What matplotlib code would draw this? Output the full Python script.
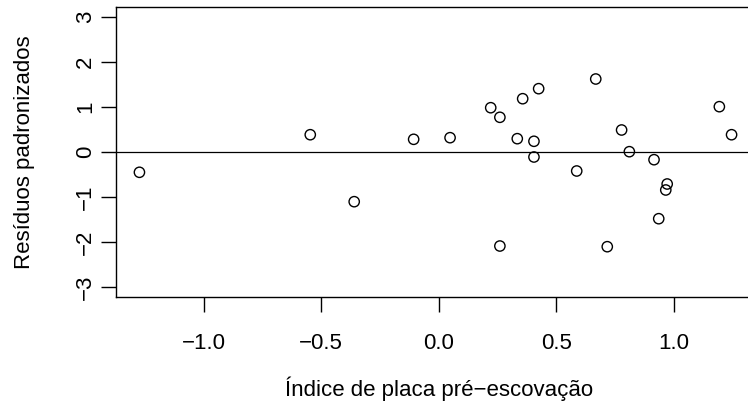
import matplotlib
matplotlib.use("Agg")
import matplotlib.pyplot as plt

# ── data ───────────────────────────────────────────────────────
placa_pre = [-1.274, -0.547, -0.360, -0.107, 0.048, 0.221, 0.260, 0.357,
             0.425, 0.334, 0.405, 0.405, 0.260, 0.587, 0.668, 0.778,
             0.811, 0.916, 0.972, 0.966, 0.936, 0.717, 1.194, 1.246]
residuos = [-0.451, 0.384, -1.104, 0.282, 0.318, 0.984, 0.771, 1.184,
            1.407, 0.296, 0.238, -0.111, -2.089, -0.422, 1.622, 0.489,
            0.007, -0.171, -0.711, -0.844, -1.482, -2.104, 1.007, 0.384]

xticks = [-1.0, -0.5, 0.0, 0.5, 1.0]
xticklabels = ["\u22121.0", "\u22120.5", "0.0", "0.5", "1.0"]
yticks = [-3, -2, -1, 0, 1, 2, 3]
yticklabels = ["\u22123", "\u22122", "\u22121", "0", "1", "2", "3"]

plt.rcParams["font.family"] = ["Liberation Sans", "DejaVu Sans"]
FS = 16

W, H = 748, 407
DPI = 100
fig = plt.figure(figsize=(W / DPI, H / DPI), dpi=DPI, facecolor="white")

# axes box in pixels: left 115.7, right 755.3 (clipped by figure), top 6.9, bottom 297.1
L, R_, T, B = 115.7, 755.3, 6.9, 297.1
ax = fig.add_axes([L / W, 1 - B / H, (R_ - L) / W, (B - T) / H])

ax.scatter(placa_pre, residuos, s=55, facecolors="none", edgecolors="black",
           linewidths=1.0, zorder=3)
ax.axhline(0, color="black", lw=0.9, zorder=2)

ax.set_xlim(-1.375, 1.347)
ax.set_ylim(-3.224, 3.224)

ax.set_xticks(xticks)
ax.set_xticklabels(xticklabels)
ax.set_yticks(yticks)
ax.set_yticklabels(yticklabels, rotation=90, va="center")

for s in ax.spines.values():
    s.set_linewidth(1.0)
ax.tick_params(axis="both", length=10.5, width=1.0, labelsize=FS, color="black")
ax.tick_params(axis="x", pad=15)
ax.tick_params(axis="y", pad=3.5)

fig.text(438.8 / W, 1 - 396 / H, "\u00cdndice de placa pr\u00e9\u2212escova\u00e7\u00e3o",
         ha="center", va="baseline", fontsize=FS)
fig.text(30 / W, 1 - 152 / H, "Res\u00edduos padronizados", rotation=90,
         rotation_mode="anchor", ha="center", va="baseline", fontsize=FS)

fig.savefig("out.png", dpi=DPI, facecolor="white")
